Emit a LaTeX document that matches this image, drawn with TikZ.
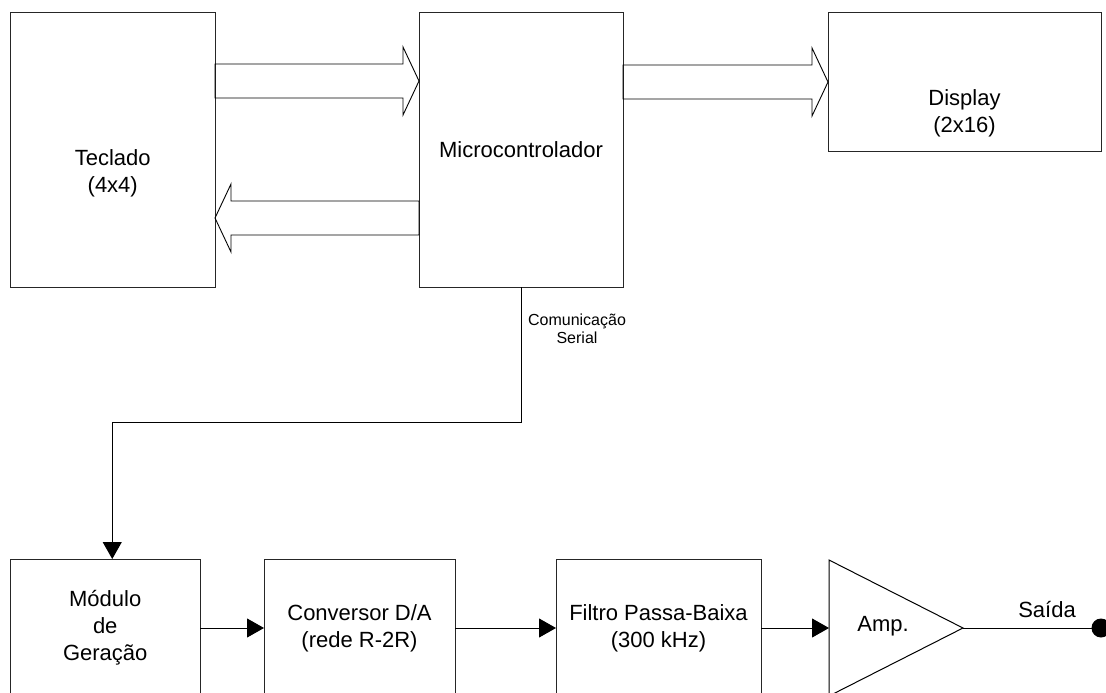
\documentclass[tikz,border=0pt]{standalone}
\usepackage{fontspec}
\setmainfont{Liberation Sans}
\usetikzlibrary{positioning,arrows.meta,calc}

\tikzset{
  block/.style  = {rectangle, draw=black!85, line width=1pt, inner sep=0pt,
                   outer sep=0pt, align=center, font=\fontsize{22}{27}\selectfont},
  lbl/.style    = {inner sep=0pt, align=center, font=\fontsize{22}{27}\selectfont},
  note/.style   = {inner sep=0pt, align=center, font=\fontsize{16}{18}\selectfont},
  wire/.style   = {draw=black, line width=1pt},
  sig/.style    = {wire, -{Triangle[length=17pt,width=19pt]}},
  bus/.style    = {draw=black, line width=0.9pt, to path={
      ($(\tikztostart)!17pt!90:(\tikztotarget)$)
      -- ($(\tikztotarget)!16pt!(\tikztostart)!17pt!90:(\tikztotarget)$)
      -- ($(\tikztotarget)!16pt!(\tikztostart)!34pt!90:(\tikztotarget)$)
      -- (\tikztotarget)
      -- ($(\tikztotarget)!16pt!(\tikztostart)!34pt!-90:(\tikztotarget)$)
      -- ($(\tikztotarget)!16pt!(\tikztostart)!17pt!-90:(\tikztotarget)$)
      -- ($(\tikztostart)!17pt!-90:(\tikztotarget)$) -- cycle}}
}

\begin{document}
\begin{tikzpicture}[x=1pt, y=-1pt]
\useasboundingbox (0,0) rectangle (1106,693);
\clip (0,0) rectangle (1106,693);

% upper part
\node[block, minimum width=204.5pt, minimum height=274pt,
      label={[lbl, yshift=-23pt]center:Teclado\\(4x4)}] (tecl) at (112.75,150) {};
\node[block, minimum width=204pt, minimum height=274pt,
      right=204pt of tecl] (micro) {Microcontrolador};
\node[block, minimum width=273pt, minimum height=138pt,
      right=205pt of micro.north east, anchor=north west,
      label={[lbl, yshift=-31pt]center:Display\\(2x16)}] (disp) {};

\draw[bus] ($(tecl.east)+(0,-69)$) to ($(micro.west)+(0,-69)$);
\draw[bus] ($(micro.west)+(0,68)$) to ($(tecl.east)+(0,68)$);
\draw[bus] (micro.east |- disp.west) to (disp.west);

% lower part
\node[block, minimum width=189.5pt, minimum height=138pt] (gen) at (105.25,628)
  {Módulo\\de\\Geração};
\node[block, minimum width=191pt, minimum height=138pt,
      right=64pt of gen] (dac) {Conversor D/A\\(rede R-2R)};
\node[block, minimum width=205pt, minimum height=138pt,
      right=101pt of dac] (lpf) {Filtro Passa-Baixa\\(300 kHz)};

\coordinate (amp) at ($(lpf.east)+(68,0)$);
\draw[wire] ($(amp)+(0,-68)$) -- ($(amp)+(134,0)$) coordinate (amptip)
  -- ($(amp)+(0,68)$) -- cycle;
\node[lbl] (ampt) at ($(amp)+(54,-2)$) {Amp.};

\coordinate (out) at ($(amptip)+(138,0)$);
\draw[wire] (amptip) -- (out);
\fill (out) circle (9.5);
\node[lbl, anchor=south] (saida) at ($(out)+(-54,-10)$) {Saída};

% connections
\draw[sig] (micro.south) -- ++(0,135) -| ($(gen.north)+(7,0)$);
\node[note] (serial) at ($(micro.south)+(56,42)$) {Comunicação\\Serial};

\draw[sig] (gen) -- (dac);
\draw[sig] (dac) -- (lpf);
\draw[sig] (lpf) -- (amp);
\end{tikzpicture}
\end{document}
